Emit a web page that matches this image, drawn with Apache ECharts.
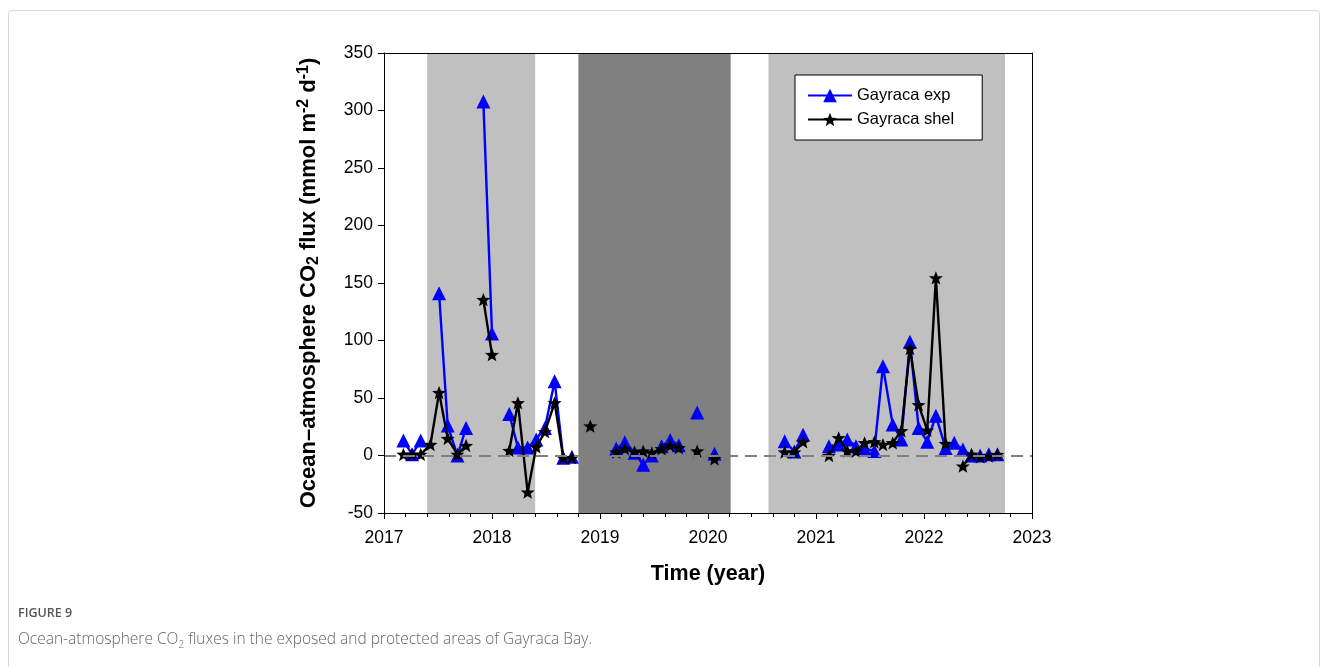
<!DOCTYPE html>
<html>
<head>
<meta charset="utf-8">
<script src="https://cdn.jsdelivr.net/npm/echarts@6/dist/echarts.min.js"></script>
<style>
  html, body { margin: 0; padding: 0; background: #fff; }
  #frame { position: absolute; left: 8px; top: 10px; width: 1312px; height: 680px; border: 1px solid #d9d9d9; border-radius: 4px; box-sizing: border-box; }
  #chart { position: absolute; left: 0; top: 0; width: 1328px; height: 667px; }
  #figlabel { position: absolute; left: 18px; top: 604px; font-family: "Open Sans", sans-serif; font-size: 12.5px; color: #555; font-weight: 600; }
  #caption { position: absolute; left: 18px; top: 627px; font-family: "Open Sans", sans-serif; font-size: 15.5px; color: #666; font-weight: 300; }
</style>
</head>
<body>
<div id="frame"></div>
<div id="chart"></div>
<div id="figlabel">FIGURE 9</div>
<div id="caption">Ocean-atmosphere CO<sub style="font-size:10px">2</sub> fluxes in the exposed and protected areas of Gayraca Bay.</div>
<script>
// Sampling times (decimal year)
const sampleTimes = [2017.18, 2017.26, 2017.34, 2017.43, 2017.51, 2017.59, 2017.68, 2017.76, 2017.84, 2017.92,
  2018.00, 2018.08, 2018.16, 2018.24, 2018.33, 2018.41, 2018.49, 2018.58, 2018.66, 2018.74,
  2018.83, 2018.91, 2019.03, 2019.15, 2019.23, 2019.32, 2019.40, 2019.48, 2019.57, 2019.65,
  2019.73, 2019.81, 2019.90, 2019.98, 2020.06, 2020.40, 2020.71, 2020.80, 2020.88, 2021.00,
  2021.12, 2021.21, 2021.29, 2021.37, 2021.45, 2021.54, 2021.62, 2021.71, 2021.79, 2021.87,
  2021.95, 2022.03, 2022.11, 2022.20, 2022.28, 2022.36, 2022.44, 2022.52, 2022.60, 2022.68];

// Gayraca exp (null = no sample / gap)
const expValues = [13, 1, 13, null, 141, 26, 0, 24, null, 307.8,
  106, null, 36, 7, 7, 14, 24, 64.5, -2, -1,
  null, null, null, 6, 11.5, 2.5, -8, 0, 8, 13.5,
  9, null, 37.5, null, 1.5, null, 12.4, 3.5, 18, null,
  8, 9.5, 14, 8, 6, 4, 77.6, 27, 14, 99,
  24, 12, 34.5, 6.6, 11, 5.2, 0, 0, 1, 1];

// Gayraca shel
const shelValues = [1, 1, 1, 9.5, 54.7, 14.8, 1, 8.7, null, 135.5,
  87.7, null, 4.3, 45.8, -31.9, 7.5, 20.6, 45.8, -2, -2,
  null, 25.5, null, 2.9, 5.8, 2.9, 3.8, 2.3, 5.8, 8.7,
  6.7, null, 3.8, null, -2.9, null, 2.9, 2.9, 11.9, null,
  0, 15.3, 3.8, 3.8, 11, 11.9, 9.5, 11, 21.5, 93,
  44, 22, 154.4, 10.4, null, -9.3, 1, -1.2, -0.6, 0.9];

// Shaded periods
const lightPeriods = [[2017.4, 2018.4], [2020.56, 2022.75]];
const darkPeriods = [[2018.8, 2020.21]];

const xTicks = [2017, 2018, 2019, 2020, 2021, 2022, 2023];
const yTicks = [-50, 0, 50, 100, 150, 200, 250, 300, 350];

const seriesNames = ['Gayraca exp', 'Gayraca shel'];

const toData = vals => sampleTimes.map((t, i) => [t, vals[i] === null ? '-' : vals[i]]);

const starPath = 'path://M0,-10 L2.6,-3.4 L9.5,-3.1 L4.1,1.3 L5.9,8.1 L0,4.2 L-5.9,8.1 L-4.1,1.3 L-9.5,-3.1 L-2.6,-3.4 Z';
const FONT = '"Liberation Sans", Arial, sans-serif';

const chart = echarts.init(document.getElementById('chart'), null, { renderer: 'canvas' });

const markAreaData = [];
lightPeriods.forEach(p => markAreaData.push([{ xAxis: p[0], itemStyle: { color: '#c0c0c0' } }, { xAxis: p[1] }]));
darkPeriods.forEach(p => markAreaData.push([{ xAxis: p[0], itemStyle: { color: '#808080' } }, { xAxis: p[1] }]));

chart.setOption({
  animation: false,
  textStyle: { fontFamily: FONT },
  grid: { left: 384, right: 296, top: 53, bottom: 154, containLabel: false },
  legend: {
    data: seriesNames,
    left: 795, top: 75,
    orient: 'vertical',
    padding: [12, 28, 12, 12],
    itemGap: 7,
    itemWidth: 44, itemHeight: 17,
    borderColor: '#000', borderWidth: 1,
    backgroundColor: '#fff',
    textStyle: { fontSize: 16.5, color: '#000', fontFamily: FONT }
  },
  xAxis: [{
    type: 'value', min: xTicks[0], max: xTicks[xTicks.length - 1], interval: 1,
    axisLine: { show: true, onZero: false, lineStyle: { color: '#000', width: 1 } },
    axisTick: { show: true, length: 6, inside: false, lineStyle: { color: '#000' } },
    minorTick: { show: true, splitNumber: 5, length: 4, lineStyle: { color: '#000' } },
    splitLine: { show: false },
    axisLabel: { fontSize: 17.5, color: '#000', margin: 16, formatter: v => String(v) },
    name: 'Time (year)', nameLocation: 'middle', nameGap: 50,
    nameTextStyle: { fontSize: 21.5, fontWeight: 'bold', color: '#000' },
    z: 10
  }, {
    type: 'value', position: 'top', min: xTicks[0], max: xTicks[xTicks.length - 1],
    axisLine: { show: true, onZero: false, lineStyle: { color: '#000', width: 1 } },
    axisTick: { show: false }, axisLabel: { show: false }, splitLine: { show: false }, z: 10
  }],
  yAxis: [{
    type: 'value', min: yTicks[0], max: yTicks[yTicks.length - 1], interval: 50,
    axisLine: { show: true, onZero: false, lineStyle: { color: '#000', width: 1 } },
    axisTick: { show: true, length: 6, inside: false, lineStyle: { color: '#000' } },
    splitLine: { show: false },
    axisLabel: { fontSize: 17.5, color: '#000', margin: 11 },
    name: 'Ocean\u2013atmosphere CO{sub|2} flux (mmol m{sup|-2} d{sup|-1})',
    nameLocation: 'middle', nameGap: 62, nameRotate: 90,
    nameTextStyle: {
      fontSize: 22, fontWeight: 'bold', color: '#000', lineHeight: 26,
      rich: {
        sub: { fontSize: 16, fontWeight: 'bold', color: '#000', verticalAlign: 'bottom', lineHeight: 26 },
        sup: { fontSize: 16, fontWeight: 'bold', color: '#000', verticalAlign: 'top', lineHeight: 26 }
      }
    },
    z: 10
  }, {
    type: 'value', position: 'right', min: yTicks[0], max: yTicks[yTicks.length - 1],
    axisLine: { show: true, onZero: false, lineStyle: { color: '#000', width: 1 } },
    axisTick: { show: false }, axisLabel: { show: false }, splitLine: { show: false }, z: 10
  }],
  series: [
    {
      name: '_shade', type: 'line', data: [], z: 1, silent: true,
      markArea: { silent: true, data: markAreaData }
    },
    {
      name: '_zero', type: 'line', data: [], z: 2, silent: true,
      markLine: {
        silent: true, symbol: ['none', 'none'], label: { show: false },
        lineStyle: { color: '#808080', width: 2, type: [12, 7] },
        data: [{ yAxis: 0 }]
      }
    },
    {
      name: seriesNames[0], type: 'line', z: 3,
      data: toData(expValues),
      connectNulls: false, showAllSymbol: true,
      symbol: 'triangle', symbolSize: 14,
      lineStyle: { color: '#0000ff', width: 2.4 },
      itemStyle: { color: '#0000ff' }
    },
    {
      name: seriesNames[1], type: 'line', z: 4,
      data: toData(shelValues),
      connectNulls: false, showAllSymbol: true,
      symbol: starPath, symbolSize: 14, symbolKeepAspect: true,
      lineStyle: { color: '#000', width: 2.4 },
      itemStyle: { color: '#000' }
    }
  ]
});
</script>
</body>
</html>
